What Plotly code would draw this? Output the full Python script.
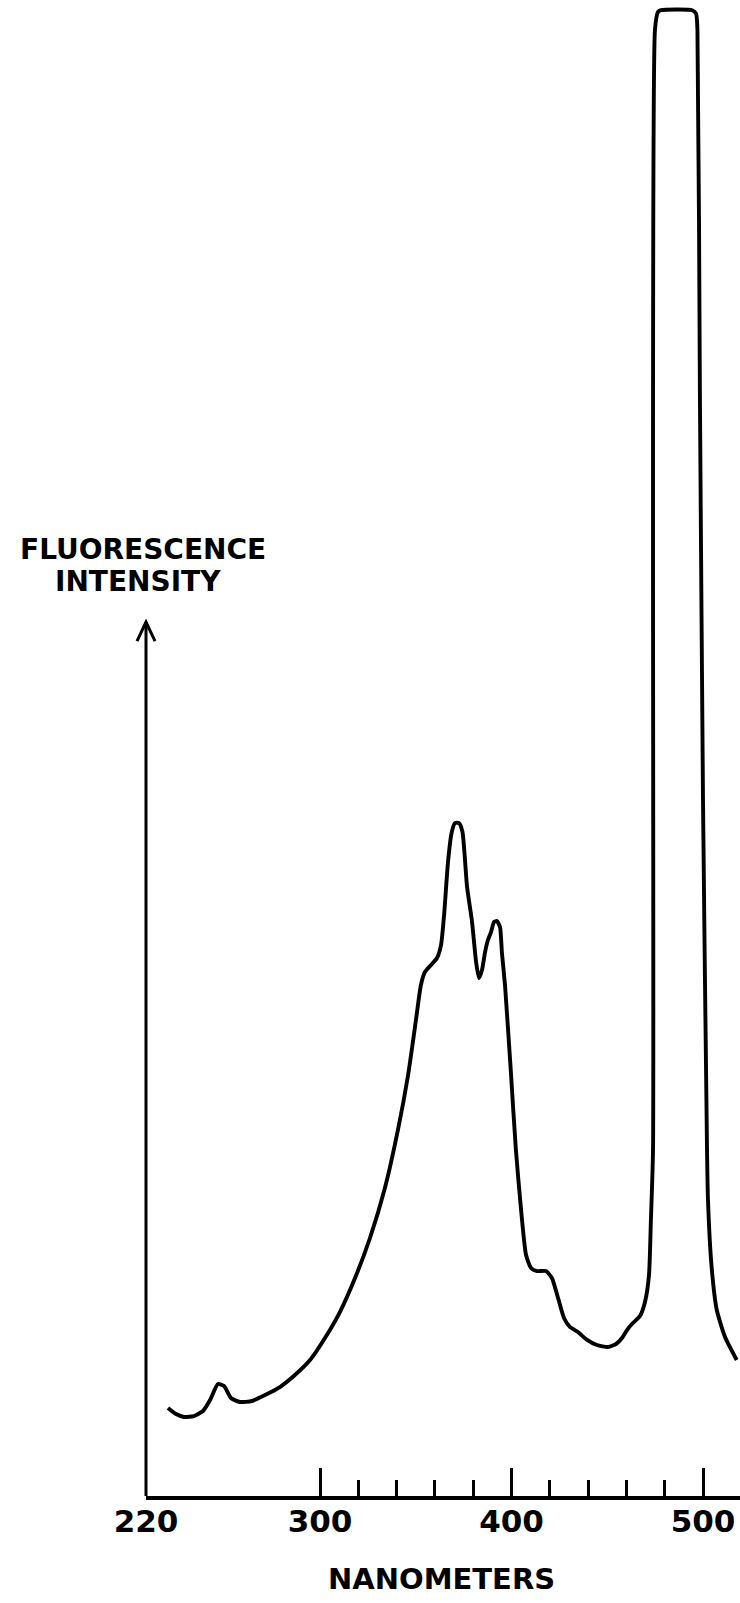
import plotly.graph_objects as go

# Emission scan: wavelength (nm) vs. relative fluorescence intensity (arbitrary units).
# The band near 485 nm runs off the recorder scale and is flat-topped.
wavelength_nm = [
    220.6, 224.8, 229.0, 234.2, 238.9, 242.6, 246.7, 249.9, 253.5, 258.2,
    264.5, 271.3, 279.1, 286.9, 294.8, 302.6, 310.4, 318.3, 326.1, 333.9,
    340.7, 346.0, 350.1, 352.7, 354.8, 358.0, 361.1, 363.2, 364.8, 366.8,
    368.7, 370.5, 372.6, 374.4, 376.8, 379.4, 381.5, 383.0, 384.6, 386.2,
    387.7, 389.3, 390.9, 392.4, 394.0, 395.0, 396.6, 399.7, 402.3, 405.0,
    407.6, 410.2, 413.3, 418.0, 421.1, 424.3, 427.4, 430.5, 434.7, 438.9,
    444.6, 450.4, 454.6, 457.7, 460.3, 463.4, 467.1, 469.7, 471.8, 472.8,
    473.9, 474.9, 476.5, 478.1, 494.3, 496.4, 497.1, 498.4, 500.0, 502.1,
    502.6, 504.5, 507.2, 511.5, 517.6,
]
intensity = [
    10.07, 9.38, 9.04, 9.15, 9.73, 10.98, 12.81, 12.59, 11.21, 10.76,
    10.87, 11.56, 12.47, 13.84, 15.56, 18.08, 21.05, 24.94, 29.52, 35.24,
    41.88, 48.17, 54.46, 58.47, 59.95, 60.76, 61.56, 63.04, 66.48, 72.43,
    75.86, 77.0, 77.0, 75.97, 69.68, 65.68, 61.1, 59.27, 60.18, 62.24,
    63.62, 64.53, 65.68, 65.79, 65.1, 62.13, 58.47, 48.4, 39.59, 32.72,
    27.57, 26.09, 25.74, 25.74, 24.94, 22.65, 20.37, 19.34, 18.76, 17.96,
    17.28, 17.05, 17.39, 18.08, 18.99, 19.79, 20.59, 22.2, 25.29, 31.58,
    39.59, 167.7, 169.8, 170.0, 170.0, 169.6, 167.7, 125.4, 79.6, 39.59,
    33.87, 26.2, 21.28, 18.19, 15.56,
]

major_ticks = [300, 400, 500]
minor_ticks = [320, 340, 360, 380, 420, 440, 460, 480, 520]
tick_labels = ["300", "400", "500"]
origin_label = "220"

x_range = [209.14, 519.32]
y_range = [0, 171.17]
arrow_top = 100

INK = "black"
FONT = "DejaVu Sans"

fig = go.Figure()
fig.add_trace(go.Scatter(
    x=wavelength_nm, y=intensity, mode="lines",
    line=dict(color=INK, width=3.9, shape="spline", smoothing=0.55),
    hoverinfo="skip", showlegend=False,
))

# vertical intensity axis with an open arrowhead
fig.add_shape(type="line", xref="paper", yref="y", x0=0, x1=0, y0=0, y1=arrow_top,
              line=dict(color=INK, width=3))
fig.add_shape(type="path", xref="paper", yref="y",
              xsizemode="pixel", ysizemode="pixel", xanchor=0, yanchor=arrow_top,
              path="M -9,-19 L 0,0 L 9,-19",
              line=dict(color=INK, width=3))

# two-line axis caption above the arrow
fig.add_annotation(text="<b>FLUORESCENCE</b>", xref="paper", yref="paper",
                   x=-0.005, y=0.6330, xanchor="center", yanchor="middle",
                   showarrow=False, borderpad=0,
                   font=dict(family=FONT, size=28, color=INK))
fig.add_annotation(text="<b>INTENSITY</b>", xref="paper", yref="paper",
                   x=-0.0143, y=0.6115, xanchor="center", yanchor="middle",
                   showarrow=False, borderpad=0,
                   font=dict(family=FONT, size=28, color=INK))
fig.add_annotation(text="<b>NANOMETERS</b>", xref="paper", yref="paper",
                   x=0.498, y=0, yshift=-83, xanchor="center", yanchor="middle",
                   showarrow=False, font=dict(family=FONT, size=29, color=INK))

# the origin of the (broken) wavelength axis is labelled 220 nm at the axis corner
label_vals = [x_range[0]] + major_ticks
label_text = [origin_label] + tick_labels

fig.update_xaxes(
    range=x_range, showgrid=False, zeroline=False,
    showline=True, linecolor=INK, linewidth=3.5,
    tickmode="array", tickvals=label_vals, ticktext=[f"<b>{t}</b>" for t in label_text],
    ticks="inside", ticklen=28, tickwidth=3, tickcolor=INK,
    ticklabelstandoff=-5,
    tickfont=dict(family=FONT, size=31, color=INK),
    minor=dict(tickmode="array", tickvals=minor_ticks, ticks="inside",
               ticklen=16, tickwidth=3, tickcolor=INK),
)
fig.update_yaxes(range=y_range, visible=False, showgrid=False, zeroline=False)

fig.update_layout(
    width=740, height=1603,
    margin=dict(l=146, r=0, t=0, b=107),
    paper_bgcolor="white", plot_bgcolor="white",
)

fig.write_html("out.html")
